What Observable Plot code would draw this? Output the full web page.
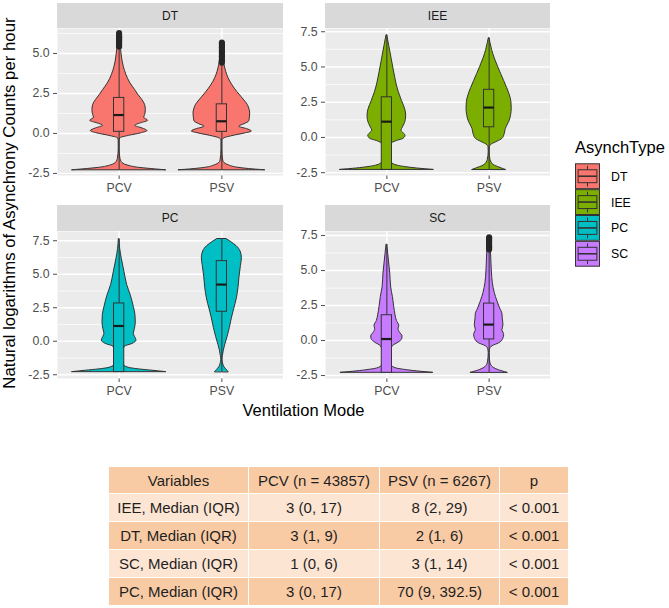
<!DOCTYPE html>
<html><head><meta charset="utf-8">
<script src="https://cdn.jsdelivr.net/npm/d3@7"></script>
<script src="https://cdn.jsdelivr.net/npm/@observablehq/plot@0.6"></script>
<style>
body{margin:0;background:#fff;font-family:"Liberation Sans",Arial,sans-serif;}
#root{position:relative;width:669px;height:608px;overflow:hidden;background:#fff;}
.strip{position:absolute;background:#d9d9d9;color:#1a1a1a;font-size:12px;display:flex;align-items:center;justify-content:center;}
.pnl{position:absolute;}
table.tb{position:absolute;left:108px;top:466px;width:460px;border-collapse:collapse;table-layout:fixed;font-size:15px;color:#1f1f1f;}
table.tb td{border:1.5px solid #fff;text-align:center;padding:0;white-space:nowrap;}
</style></head><body><div id="root"></div>
<script>
// ---------- data ----------
const panelNames = ["DT","IEE","PC","SC"];
const modes = ["PCV","PSV"];
const fills = ["#F8766D","#7CAE00","#00BFC4","#C77CFF"];

// violin profiles: [log value, half-width in category units]
const DT_PCV = [[-2.303,0.455],[-2.25,0.357],[-2.15,0.195],[-2.0,0.081],[-1.8,0.026],[-1.6,0.013],[-1.0,0.004],[-0.5,0.004],[-0.31,0.010],[-0.15,0.097],[0.0,0.211],[0.15,0.276],[0.31,0.227],[0.48,0.156],[0.63,0.211],[0.79,0.282],[0.98,0.244],[1.15,0.253],[1.46,0.260],[1.77,0.253],[2.08,0.227],[2.40,0.188],[2.71,0.156],[3.13,0.110],[3.65,0.071],[4.17,0.045],[4.69,0.029],[5.21,0.019],[5.73,0.013],[6.25,0.003]];
const DT_PSV = [[-2.303,0.419],[-2.25,0.308],[-2.15,0.162],[-2.0,0.071],[-1.85,0.026],[-1.7,0.013],[-1.0,0.004],[-0.45,0.004],[-0.3,0.026],[-0.15,0.114],[0.0,0.227],[0.12,0.292],[0.27,0.244],[0.42,0.169],[0.58,0.221],[0.75,0.266],[1.0,0.273],[1.25,0.276],[1.5,0.269],[1.77,0.253],[2.0,0.227],[2.3,0.188],[2.6,0.149],[3.0,0.104],[3.45,0.065],[3.85,0.042],[4.27,0.026],[4.7,0.016],[5.2,0.010],[5.6,0.003]];
const IEE_PCV = [[-2.303,0.456],[-2.2,0.293],[-2.1,0.179],[-2.0,0.104],[-1.8,0.049],[-1.5,0.033],[-1.0,0.029],[-0.5,0.039],[-0.25,0.098],[-0.1,0.163],[0.12,0.182],[0.3,0.163],[0.48,0.143],[0.7,0.156],[0.95,0.173],[1.25,0.186],[1.55,0.189],[2.0,0.179],[2.6,0.147],[3.2,0.117],[3.9,0.091],[4.6,0.072],[5.6,0.046],[6.5,0.023],[7.26,0.003]];
const IEE_PSV = [[-2.303,0.163],[-2.2,0.124],[-2.1,0.088],[-2.0,0.055],[-1.8,0.026],[-1.6,0.013],[-1.0,0.004],[-0.7,0.006],[-0.5,0.026],[-0.3,0.081],[-0.1,0.130],[0.12,0.147],[0.35,0.156],[0.6,0.163],[0.85,0.179],[1.2,0.202],[1.6,0.215],[2.0,0.221],[2.5,0.218],[3.0,0.202],[3.5,0.176],[4.0,0.147],[4.5,0.117],[5.0,0.088],[5.6,0.055],[6.2,0.029],[6.7,0.013],[7.05,0.003]];
const PC_PCV = [[-2.303,0.455],[-2.2,0.325],[-2.1,0.195],[-2.0,0.104],[-1.8,0.049],[-1.4,0.039],[-0.8,0.039],[-0.4,0.058],[-0.2,0.130],[0.05,0.169],[0.3,0.156],[0.55,0.143],[0.9,0.153],[1.4,0.162],[1.95,0.159],[2.55,0.143],[3.4,0.114],[4.2,0.078],[5.16,0.052],[6.15,0.026],[6.9,0.010],[7.63,0.003]];
const PC_PSV = [[-2.303,0.065],[-2.15,0.049],[-1.95,0.026],[-1.7,0.013],[-1.4,0.006],[-1.1,0.010],[-0.7,0.019],[-0.3,0.032],[0.3,0.055],[1.0,0.078],[1.7,0.097],[2.4,0.120],[3.2,0.146],[4.0,0.162],[4.8,0.172],[5.6,0.185],[6.2,0.195],[6.7,0.182],[7.1,0.143],[7.4,0.091],[7.63,0.045]];
const SC_PCV = [[-2.303,0.450],[-2.2,0.293],[-2.1,0.179],[-2.0,0.098],[-1.8,0.049],[-1.4,0.036],[-0.8,0.039],[-0.4,0.059],[-0.15,0.114],[0.1,0.150],[0.3,0.153],[0.55,0.130],[0.8,0.114],[1.05,0.121],[1.4,0.098],[1.8,0.085],[2.4,0.072],[3.1,0.059],[3.8,0.042],[4.8,0.033],[5.5,0.023],[6.2,0.013],[6.86,0.003]];
const SC_PSV = [[-2.303,0.179],[-2.2,0.130],[-2.1,0.088],[-1.95,0.046],[-1.75,0.020],[-1.5,0.010],[-0.9,0.004],[-0.6,0.010],[-0.4,0.033],[-0.2,0.098],[0.1,0.137],[0.4,0.147],[0.75,0.130],[1.1,0.140],[1.5,0.134],[1.9,0.130],[2.3,0.107],[2.8,0.081],[3.4,0.055],[4.1,0.036],[5.0,0.026],[6.0,0.020],[6.7,0.016],[7.33,0.007]];

// boxplot stats: [panel, mode, lowerWhisker, q1, median, q3, upperWhisker]
const boxStats = [
  ["DT","PCV",-2.303,0.10,1.15,2.22,5.35],
  ["DT","PSV",-2.303,0.10,0.76,1.82,4.35],
  ["IEE","PCV",-2.303,-2.303,1.12,2.85,7.26],
  ["IEE","PSV",-2.303,0.72,2.12,3.38,7.05],
  ["PC","PCV",-2.303,-2.303,1.14,2.82,7.63],
  ["PC","PSV",-2.303,2.20,4.23,5.98,7.63],
  ["SC","PCV",-2.303,-2.303,0.11,1.81,6.86],
  ["SC","PSV",-2.303,0.08,1.14,2.64,6.45]
];
// outliers
const DT_PCV_out = [5.42,5.48,5.55,5.62,5.68,5.75,5.82,5.88,5.95,6.02,6.08,6.15,6.22,6.28];
const DT_PSV_out = [4.42,4.5,4.58,4.66,4.74,4.82,4.9,4.98,5.06,5.14,5.22,5.3,5.38,5.46,5.54,5.62,5.68];
const SC_PSV_out = [6.5,6.58,6.66,6.74,6.82,6.9,6.98,7.06,7.14,7.22,7.3,7.38];

// y axis ticks per panel
const ticksDT = [-2.5,0,2.5,5];
const ticksOther = [-2.5,0,2.5,5,7.5];
const minorTicks = [-1.25,1.25,3.75,6.25];

// table
const tableHeader = ["Variables","PCV (n = 43857)","PSV (n = 6267)","p"];
const tableRows = [
  ["IEE, Median (IQR)","3 (0, 17)","8 (2, 29)","< 0.001"],
  ["DT, Median (IQR)","3 (1, 9)","2 (1, 6)","< 0.001"],
  ["SC, Median (IQR)","1 (0, 6)","3 (1, 14)","< 0.001"],
  ["PC, Median (IQR)","3 (0, 17)","70 (9, 392.5)","< 0.001"]
];

// ---------- build ----------
const violins = {DT:{PCV:DT_PCV,PSV:DT_PSV},IEE:{PCV:IEE_PCV,PSV:IEE_PSV},PC:{PCV:PC_PCV,PSV:PC_PSV},SC:{PCV:SC_PCV,PSV:SC_PSV}};
const outliers = {DT:{PCV:DT_PCV_out,PSV:DT_PSV_out},IEE:{PCV:[],PSV:[]},PC:{PCV:[],PSV:[]},SC:{PCV:[],PSV:SC_PSV_out}};

const root = document.getElementById("root");
const layout = {
  DT:{left:57,top:28,w:226,strip:3,sh:25,domain:[-2.63,6.56],ticks:ticksDT},
  IEE:{left:325,top:28,w:225,strip:3,sh:25,domain:[-2.70,7.73],ticks:ticksOther},
  PC:{left:57,top:231,w:226,strip:205,sh:26,domain:[-2.78,8.19],ticks:ticksOther},
  SC:{left:325,top:231,w:225,strip:205,sh:26,domain:[-2.71,7.79],ticks:ticksOther}
};
const PH = 147, ML = 48, MB = 24, MT = 10, BW = 0.05;

panelNames.forEach((p, pi) => {
  const L = layout[p];
  const color = fills[pi];
  const vrows = modes.flatMap((m, i) => violins[p][m].map(([y, w]) => ({mode: m, c: i + 1, y, w})));
  const brows = boxStats.filter(d => d[0] === p).map(d => ({c: modes.indexOf(d[1]) + 1, lo: d[2], q1: d[3], med: d[4], q3: d[5], hi: d[6]}));
  const orows = modes.flatMap((m, i) => outliers[p][m].map(y => ({c: i + 1, y})));
  const chart = Plot.plot({
    width: ML + L.w, height: PH + MB + MT,
    marginLeft: ML, marginRight: 0, marginTop: MT, marginBottom: MB,
    style: {fontFamily: '"Liberation Sans", Arial, sans-serif', fontSize: "12.3px", color: "#4d4d4d", background: "transparent"},
    x: {domain: [0.4, 2.6], ticks: [1, 2], tickFormat: d => modes[d - 1], tickSize: 4, tickPadding: 4, label: null},
    y: {domain: L.domain, ticks: L.ticks, tickFormat: d => d.toFixed(1), tickSize: 4, tickPadding: 4, label: null},
    marks: [
      Plot.frame({fill: "#ebebeb", stroke: "none"}),
      Plot.ruleY(minorTicks.filter(t => t > L.domain[0] && t < L.domain[1]), {stroke: "#fff", strokeWidth: 0.7}),
      Plot.ruleY(L.ticks, {stroke: "#fff", strokeWidth: 1.4}),
      Plot.ruleX([1, 2], {stroke: "#fff", strokeWidth: 1.4}),
      Plot.areaX(vrows, {y: "y", x1: d => d.c - d.w, x2: d => d.c + d.w, z: "mode", fill: color, stroke: "#333", strokeWidth: 1, curve: "monotone-y"}),
      Plot.ruleX(brows, {x: "c", y1: "lo", y2: "q1", stroke: "#333", strokeWidth: 1}),
      Plot.ruleX(brows, {x: "c", y1: "q3", y2: "hi", stroke: "#333", strokeWidth: 1}),
      Plot.rect(brows, {x1: d => d.c - BW, x2: d => d.c + BW, y1: "q1", y2: "q3", fill: color, stroke: "#333", strokeWidth: 1}),
      Plot.ruleY(brows, {y: "med", x1: d => d.c - BW, x2: d => d.c + BW, stroke: "#1a1a1a", strokeWidth: 2.2}),
      Plot.dot(orows, {x: "c", y: "y", r: 3, fill: "#262626", stroke: "none"})
    ]
  });
  chart.classList.add("pnl");
  chart.style.left = (L.left - ML) + "px";
  chart.style.top = (L.top - MT) + "px";
  root.appendChild(chart);
  const s = document.createElement("div");
  s.className = "strip";
  s.style.left = L.left + "px"; s.style.top = L.strip + "px";
  s.style.width = L.w + "px"; s.style.height = L.sh + "px";
  s.textContent = p;
  root.appendChild(s);
});

// overlay: axis titles and legend
const ov = d3.select(root).append("svg")
  .attr("width", 669).attr("height", 430)
  .style("position", "absolute").style("left", "0px").style("top", "0px")
  .style("pointer-events", "none")
  .style("font-family", '"Liberation Sans", Arial, sans-serif');
ov.append("text").attr("transform", "translate(14.5,203) rotate(-90)")
  .attr("text-anchor", "middle").attr("font-size", 16.8).attr("fill", "#000")
  .text("Natural logarithms of Asynchrony Counts per hour");
ov.append("text").attr("x", 303.5).attr("y", 415.5)
  .attr("text-anchor", "middle").attr("font-size", 16.5).attr("fill", "#000")
  .text("Ventilation Mode");
ov.append("text").attr("x", 575).attr("y", 152.5).attr("font-size", 16.5).attr("fill", "#000").text("AsynchType");
const kw = 25, kh = 25.85, kx = 575, ky = 163.3;
panelNames.forEach((p, i) => {
  const g = ov.append("g").attr("transform", `translate(${kx},${ky + i * kh})`);
  g.append("rect").attr("x", 0).attr("y", 0).attr("width", kw).attr("height", kh).attr("fill", "#f2f2f2");
  g.append("rect").attr("x", 0.5).attr("y", 0.5).attr("width", kw - 1).attr("height", kh - 1).attr("fill", fills[i]).attr("stroke", "#333").attr("stroke-width", 1);
  g.append("line").attr("x1", kw / 2).attr("x2", kw / 2).attr("y1", kh * 0.1).attr("y2", kh * 0.25).attr("stroke", "#333");
  g.append("line").attr("x1", kw / 2).attr("x2", kw / 2).attr("y1", kh * 0.75).attr("y2", kh * 0.9).attr("stroke", "#333");
  g.append("rect").attr("x", kw * 0.125).attr("y", kh * 0.25).attr("width", kw * 0.75).attr("height", kh * 0.5).attr("fill", fills[i]).attr("stroke", "#333");
  g.append("line").attr("x1", kw * 0.125).attr("x2", kw * 0.875).attr("y1", kh * 0.5).attr("y2", kh * 0.5).attr("stroke", "#333").attr("stroke-width", 1.6);
  ov.append("text").attr("x", 611).attr("y", ky + i * kh + kh / 2).attr("dy", "0.36em")
    .attr("font-size", 12.3).attr("fill", "#000").text(p);
});

// table
const tb = d3.select(root).append("table").attr("class", "tb");
const cg = tb.append("colgroup");
[140, 131, 120, 69].forEach(w => cg.append("col").style("width", w + "px"));
const rowBg = ["#f9cba5", "#fde5d3", "#f9cba5", "#fde5d3", "#f9cba5"];
const rowH = [27, 28, 28, 28, 28];
[tableHeader, ...tableRows].forEach((r, i) => {
  const tr = tb.append("tr").style("height", rowH[i] + "px");
  r.forEach(c => tr.append("td").style("background", rowBg[i]).text(c));
});
</script></body></html>
